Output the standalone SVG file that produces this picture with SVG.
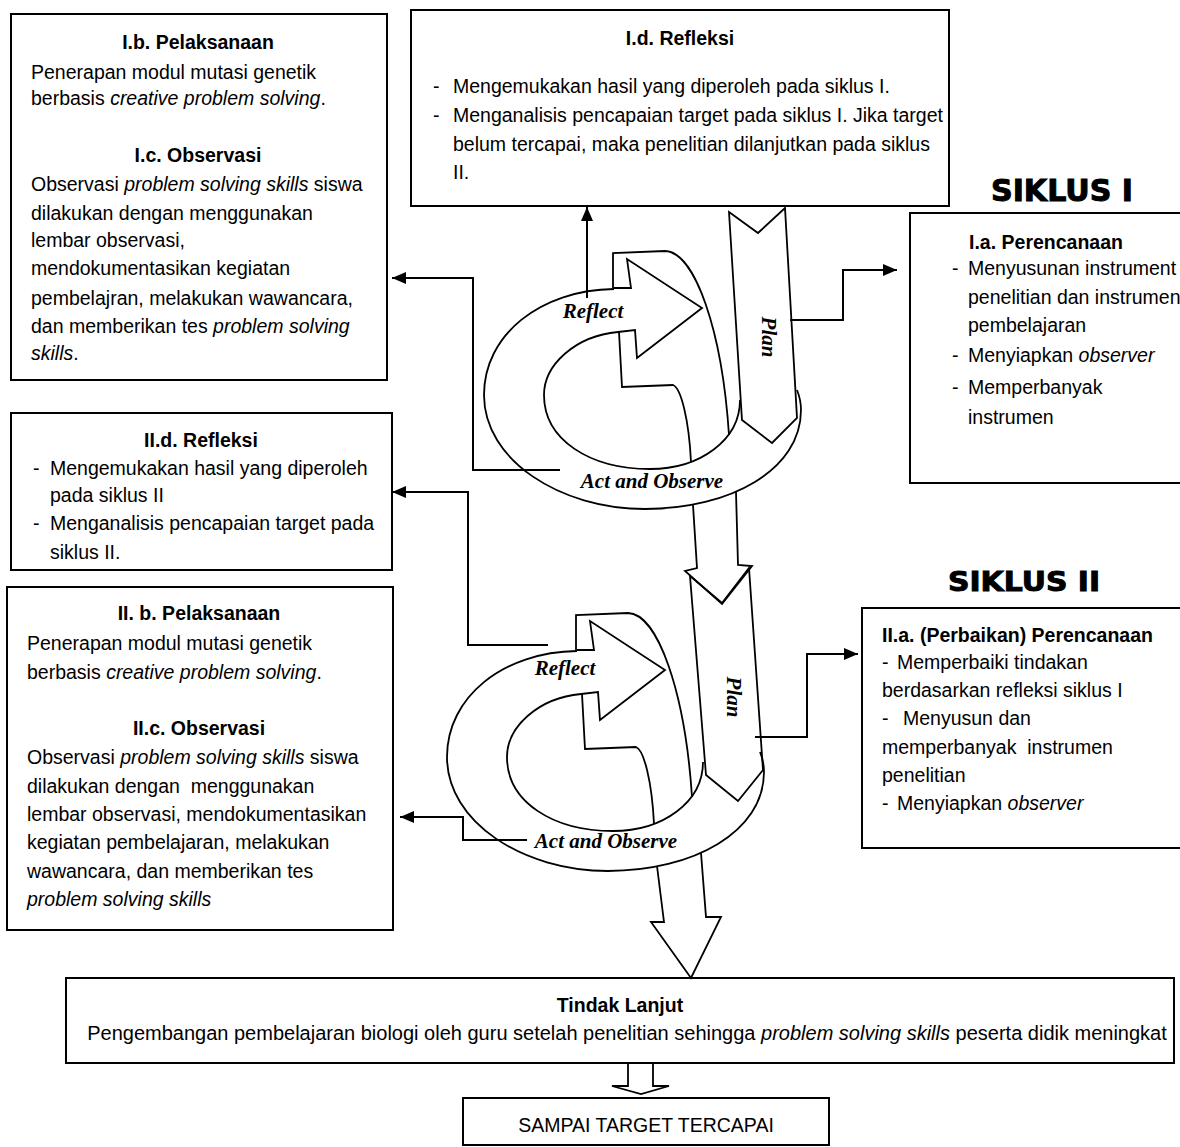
<svg xmlns="http://www.w3.org/2000/svg" width="1180" height="1147" viewBox="0 0 1180 1147">
<style>
.box{fill:#fff;stroke:#000;stroke-width:2}
.t{font-family:"Liberation Sans",Arial,sans-serif;font-size:19.5px;fill:#000}
.b{font-weight:bold}
.c{text-anchor:middle}
.i{font-style:italic}
.lbl{font-family:"Liberation Serif","Times New Roman",serif;font-weight:bold;font-style:italic;font-size:21px;fill:#000;text-anchor:middle}
.sp{fill:none;stroke:#000;stroke-width:1.8;stroke-linejoin:miter}
.con{fill:none;stroke:#000;stroke-width:2}
.sik{font-family:"DejaVu Sans","Liberation Sans",sans-serif;font-weight:bold;fill:#000;stroke:#000;stroke-width:1;text-anchor:middle}
</style>
<defs>
<marker id="ah" markerUnits="userSpaceOnUse" markerWidth="15" markerHeight="12" refX="14" refY="6" orient="auto">
<path d="M0,0 L14,6 L0,12 Z" fill="#000"/>
</marker>
</defs>
<rect width="1180" height="1147" fill="#fff"/>

<g id="node-Ibc">
<rect class="box" x="11" y="14" width="376" height="366"/>
<text class="t b c" x="198" y="49">I.b. Pelaksanaan</text>
<text class="t" x="31" y="79">Penerapan modul mutasi genetik</text>
<text class="t" x="31" y="105">berbasis <tspan class="i">creative problem solving</tspan>.</text>
<text class="t b c" x="198" y="162">I.c. Observasi</text>
<text class="t" x="31" y="191">Observasi <tspan class="i">problem solving skills</tspan> siswa</text>
<text class="t" x="31" y="220">dilakukan dengan menggunakan</text>
<text class="t" x="31" y="247">lembar observasi,</text>
<text class="t" x="31" y="275">mendokumentasikan kegiatan</text>
<text class="t" x="31" y="305">pembelajran, melakukan wawancara,</text>
<text class="t" x="31" y="333">dan memberikan tes <tspan class="i">problem solving</tspan></text>
<text class="t" x="31" y="360"><tspan class="i">skills</tspan>.</text>
</g>

<g id="node-Id">
<rect class="box" x="411" y="10" width="538" height="196"/>
<text class="t b c" x="680" y="45">I.d. Refleksi</text>
<text class="t" x="433" y="93">-</text>
<text class="t" x="453" y="93">Mengemukakan hasil yang diperoleh pada siklus I.</text>
<text class="t" x="433" y="122">-</text>
<text class="t" x="453" y="122">Menganalisis pencapaian target pada siklus I. Jika target</text>
<text class="t" x="453" y="151">belum tercapai, maka penelitian dilanjutkan pada siklus</text>
<text class="t" x="453" y="179">II.</text>
</g>

<g id="label-siklus1">
<text class="sik" x="1062" y="201" font-size="30" textLength="142" lengthAdjust="spacingAndGlyphs">SIKLUS I</text>
</g>

<g id="node-Ia">
<rect class="box" x="910" y="213" width="275" height="270"/>
<text class="t b c" x="1046" y="249">I.a. Perencanaan</text>
<text class="t" x="952" y="275">-</text>
<text class="t" x="968" y="275">Menyusunan instrument</text>
<text class="t" x="968" y="304">penelitian dan instrumen</text>
<text class="t" x="968" y="332">pembelajaran</text>
<text class="t" x="952" y="362">-</text>
<text class="t" x="968" y="362">Menyiapkan <tspan class="i">observer</tspan></text>
<text class="t" x="952" y="394">-</text>
<text class="t" x="968" y="394">Memperbanyak</text>
<text class="t" x="968" y="424">instrumen</text>
</g>

<g id="node-IId">
<rect class="box" x="11" y="413" width="381" height="157"/>
<text class="t b c" x="201" y="447">II.d. Refleksi</text>
<text class="t" x="33" y="475">-</text>
<text class="t" x="50" y="475">Mengemukakan hasil yang diperoleh</text>
<text class="t" x="50" y="502">pada siklus II</text>
<text class="t" x="33" y="530">-</text>
<text class="t" x="50" y="530">Menganalisis pencapaian target pada</text>
<text class="t" x="50" y="559">siklus II.</text>
</g>

<g id="node-IIbc">
<rect class="box" x="7" y="587" width="386" height="343"/>
<text class="t b c" x="199" y="620">II. b. Pelaksanaan</text>
<text class="t" x="27" y="650">Penerapan modul mutasi genetik</text>
<text class="t" x="27" y="679">berbasis <tspan class="i">creative problem solving</tspan>.</text>
<text class="t b c" x="199" y="735">II.c. Observasi</text>
<text class="t" x="27" y="764">Observasi <tspan class="i">problem solving skills</tspan> siswa</text>
<text class="t" x="27" y="793">dilakukan dengan&#160; menggunakan</text>
<text class="t" x="27" y="821">lembar observasi, mendokumentasikan</text>
<text class="t" x="27" y="849">kegiatan pembelajaran, melakukan</text>
<text class="t" x="27" y="878">wawancara, dan memberikan tes</text>
<text class="t i" x="27" y="906">problem solving skills</text>
</g>

<g id="label-siklus2">
<text class="sik" x="1024" y="591" font-size="27" textLength="152" lengthAdjust="spacingAndGlyphs">SIKLUS II</text>
</g>

<g id="node-IIa">
<rect class="box" x="862" y="608" width="325" height="240"/>
<text class="t b" x="882" y="642">II.a. (Perbaikan) Perencanaan</text>
<text class="t" x="882" y="669">-</text>
<text class="t" x="897" y="669">Memperbaiki tindakan</text>
<text class="t" x="882" y="697">berdasarkan refleksi siklus I</text>
<text class="t" x="882" y="725">-</text>
<text class="t" x="903" y="725">Menyusun dan</text>
<text class="t" x="882" y="754">memperbanyak&#160; instrumen</text>
<text class="t" x="882" y="782">penelitian</text>
<text class="t" x="882" y="810">-</text>
<text class="t" x="897" y="810">Menyiapkan <tspan class="i">observer</tspan></text>
</g>

<g id="node-tindak">
<rect class="box" x="66" y="978" width="1108" height="85"/>
<text class="t b c" x="620" y="1012">Tindak Lanjut</text>
<text class="t c" x="627" y="1040" style="font-size:20px">Pengembangan pembelajaran biologi oleh guru setelah penelitian sehingga <tspan class="i">problem solving skills</tspan> peserta didik meningkat</text>
</g>

<g id="node-sampai">
<rect class="box" x="463" y="1098" width="366" height="47"/>
<text class="t c" x="646" y="1132">SAMPAI TARGET TERCAPAI</text>
</g>

<g id="cycle1">
<path class="sp" d="M614,289 C540,290 484,335 484,395 C484,460 560,509 645,509 C730,509 801,470 801,410 C801,402 799,395 797,390"/>
<path class="sp" d="M618,332 C575,336 544,365 544,395 C544,440 590,469 650,469 C700,469 740,440 740,400"/>
<path class="sp" d="M614,288 L631,288 L627,259 L702,308 L637,358 L635,330 L618,332"/>
<path class="sp" d="M613,288 L613,253 L665,251 C695,252 722,330 729,435"/>
<path class="sp" d="M619,332 L622,387 L673,385 C681,388 689,420 691,462"/>
<path class="sp" d="M729,212 L758,233 L785,208 L797,418 L772,443 L742,420 Z"/>
<text class="lbl" x="593" y="318">Reflect</text>
<text class="lbl" x="652" y="488">Act and Observe</text>
<text class="lbl" transform="translate(769,337) rotate(90)" x="0" y="7">Plan</text>
</g>

<g id="arrow-cycle1-to-cycle2">
<path class="sp" d="M693,505 L697,568 L685,571 L722,604 L752,566 L738,565 L736,492"/>
</g>

<g id="cycle2">
<g transform="translate(-37,362)">
<path class="sp" d="M614,289 C540,290 484,335 484,395 C484,460 560,509 645,509 C730,509 801,470 801,410 C801,402 799,395 797,390"/>
<path class="sp" d="M618,332 C575,336 544,365 544,395 C544,440 590,469 650,469 C700,469 740,440 740,400"/>
<path class="sp" d="M614,288 L631,288 L627,259 L702,308 L637,358 L635,330 L618,332"/>
<path class="sp" d="M613,288 L613,253 L665,251 C695,252 722,330 729,435"/>
<path class="sp" d="M619,332 L622,387 L673,385 C681,388 689,420 691,462"/>
</g>
<path class="sp" d="M690,576 L722,603 L749,568 L763,770 L738,801 L706,775 Z"/>
<text class="lbl" x="565" y="675">Reflect</text>
<text class="lbl" x="606" y="848">Act and Observe</text>
<text class="lbl" transform="translate(734,697) rotate(90)" x="0" y="7">Plan</text>
</g>

<g id="arrow-cycle2-to-tindak">
<path class="sp" d="M657,866 L664,922 L651,922 L691,978 L721,917 L706,917 L701,853"/>
</g>

<g id="arrow-tindak-to-sampai">
<path class="sp" d="M628,1063 L628,1086 L612,1086 L641,1094 L669,1086 L653,1086 L653,1063"/>
</g>

<g id="connectors">
<path class="con" d="M587,298 V207" marker-end="url(#ah)"/>
<path class="con" d="M560,470 H473 V278 H392" marker-end="url(#ah)"/>
<path class="con" d="M790,320 H843 V270 H897" marker-end="url(#ah)"/>
<path class="con" d="M548,645 H468 V492 H392" marker-end="url(#ah)"/>
<path class="con" d="M755,737 H807 V654 H858" marker-end="url(#ah)"/>
<path class="con" d="M527,840 H463 V817 H400" marker-end="url(#ah)"/>
</g>
</svg>
